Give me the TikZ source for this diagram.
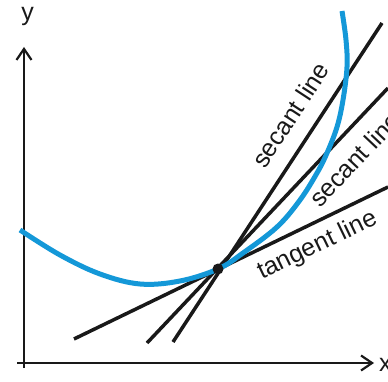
\documentclass[tikz,border=0pt]{standalone}
\usepackage{fontspec}
\setmainfont{Liberation Sans}
\usetikzlibrary{arrows.meta}
\definecolor{curveblue}{RGB}{20,152,216}
\definecolor{ink}{RGB}{25,25,25}
\begin{document}
\begin{tikzpicture}[x=1pt,y=-1pt,
  axisline/.style={ink,line width=2.2pt,-{Straight Barb[length=11pt,width=15pt]}},
  blackline/.style={ink,line width=3.5pt},
  lbl/.style={ink,inner sep=0pt,font=\fontsize{25}{30}\selectfont}]
\useasboundingbox (0,0) rectangle (388,382);
% axes
\coordinate (yb) at (24,368);
\coordinate (yt) at (24,47);
\coordinate (xl) at (17,363);
\coordinate (xr) at (374,363);
\draw[axisline] (yb) -- (yt);
\draw[axisline] (xl) -- (xr);
\node[lbl,anchor=base] (ylab) at (27.5,21) {y};
\node[lbl,anchor=base west] (xlab) at (379,371) {x};
% lines
\coordinate (P) at (218,269);
\coordinate (t1) at (74,339);
\coordinate (t2) at (388,187);
\coordinate (a1) at (147,343);
\coordinate (a2) at (388,88);
\coordinate (b1) at (173,342);
\coordinate (b2) at (382,23);
\draw[blackline] (t1) -- (t2);
\draw[blackline] (a1) -- (a2);
\draw[blackline] (b1) -- (b2);
% curve
\draw[curveblue,line width=5pt] plot[smooth,tension=0.6] coordinates
  {(20,230) (60,255) (100,274) (140,284) (180,281) (218,269) (243,253) (277,227) (300,200) (317,173) (327,153) (337,127) (343,100) (347,67) (346,40) (342,11)};
\fill[ink] (P) circle (5.5pt);
% labels
\node[lbl,anchor=base west,rotate=56.8] (s1) at (265,170) {secant line};
\node[lbl,anchor=base west,rotate=46.6] (s2) at (320,209) {secant line};
\node[lbl,anchor=base west,rotate=25.8] (tl) at (262,280) {tangent line};
\end{tikzpicture}
\end{document}
